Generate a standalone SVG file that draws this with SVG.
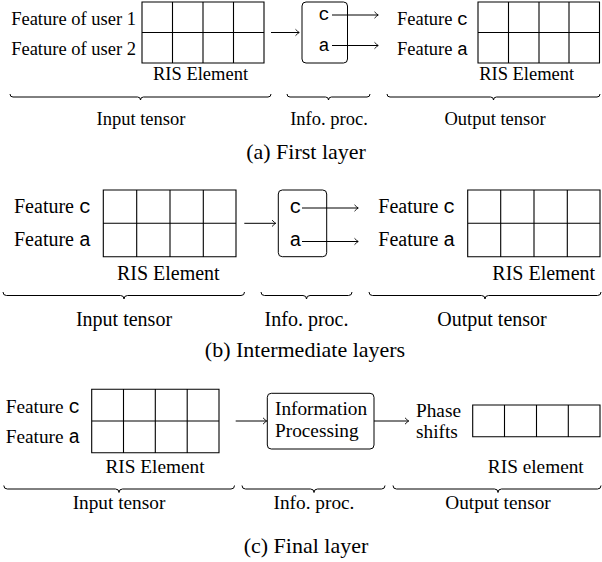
<svg xmlns="http://www.w3.org/2000/svg" width="602" height="562" viewBox="0 0 602 562">
<style>
text{font-family:"Liberation Serif","Times New Roman",serif;fill:#000}
.m{font-family:"Liberation Mono","Courier New",monospace}
.g{fill:none;stroke:#000;stroke-width:1.1}
.b{fill:#fff;stroke:#000;stroke-width:1}
.br{fill:none;stroke:#000;stroke-width:1}
.c{stroke:#000;stroke-width:1;fill:none;marker-end:url(#to)}
.fa{font-size:18.5px}.fb{font-size:20px}.fc{font-size:19.3px}.cap{font-size:22px}
</style>
<defs>
<marker id="to" markerUnits="userSpaceOnUse" markerWidth="10" markerHeight="10" refX="0" refY="0" viewBox="-6 -5 8 10" orient="auto" overflow="visible">
<path d="M-3.5,-3.2 Q-1,-0.6 0.3,0 Q-1,0.6 -3.5,3.2" fill="none" stroke="#000" stroke-width="0.9"/>
</marker>
</defs>
<rect width="602" height="562" fill="#fff"/>

<!-- (a) First layer -->
<g id="a-input" class="fa">
<text x="136" y="25" text-anchor="end">Feature of user 1</text>
<text x="136" y="55" text-anchor="end">Feature of user 2</text>
<path class="g" d="M142,2H264V63H142Z M142,32.5H264 M172.5,2V63 M203,2V63 M233.5,2V63"/>
<text x="200.5" y="80" text-anchor="middle">RIS Element</text>
</g>
<g id="a-proc" class="fa">
<rect class="b" x="302" y="2" width="45.5" height="61" rx="4"/>
<text class="m" x="324" y="20" text-anchor="middle">c</text>
<text class="m" x="324" y="50.5" text-anchor="middle">a</text>
</g>
<g id="a-output" class="fa">
<text x="397" y="25">Feature <tspan class="m">c</tspan></text>
<text x="397" y="55">Feature <tspan class="m">a</tspan></text>
<path class="g" d="M478,2H599.5V63H478Z M478,32.5H599.5 M508.5,2V63 M539,2V63 M569,2V63"/>
<text x="526.7" y="80" text-anchor="middle">RIS Element</text>
</g>
<g id="a-braces" class="fa">
<path class="br" d="M10,94Q10,97 13,97H137.5Q140.5,97 140.5,100Q140.5,97 143.5,97H268Q271,97 271,94"/>
<path class="br" d="M287,94Q287,97 290,97H325.5Q328.5,97 328.5,100Q328.5,97 331.5,97H367Q370,97 370,94"/>
<path class="br" d="M387,94Q387,97 390,97H490.5Q493.5,97 493.5,100Q493.5,97 496.5,97H597Q600,97 600,94"/>
<text x="141" y="125" text-anchor="middle">Input tensor</text>
<text x="329" y="125" text-anchor="middle">Info. proc.</text>
<text x="495" y="125" text-anchor="middle">Output tensor</text>
</g>
<text class="cap" x="306" y="158.7" text-anchor="middle">(a) First layer</text>

<!-- (b) Intermediate layers -->
<g id="b-input" class="fb">
<text x="91" y="213" text-anchor="end">Feature <tspan class="m">c</tspan></text>
<text x="91" y="246" text-anchor="end">Feature <tspan class="m">a</tspan></text>
<path class="g" d="M103.3,190H236V256.7H103.3Z M103.3,223.3H236 M136.7,190V256.7 M170,190V256.7 M203.3,190V256.7"/>
<text x="168.3" y="280" text-anchor="middle">RIS Element</text>
</g>
<g id="b-proc" class="fb">
<rect class="b" x="278.3" y="190" width="48.4" height="66.7" rx="4"/>
<text class="m" x="295.5" y="213" text-anchor="middle">c</text>
<text class="m" x="295.5" y="246" text-anchor="middle">a</text>
</g>
<g id="b-output" class="fb">
<text x="378.3" y="213">Feature <tspan class="m">c</tspan></text>
<text x="378.3" y="246">Feature <tspan class="m">a</tspan></text>
<path class="g" d="M467.7,190H600V256.7H467.7Z M467.7,223.3H600 M500.7,190V256.7 M534,190V256.7 M567.3,190V256.7"/>
<text x="543.7" y="280" text-anchor="middle">RIS Element</text>
</g>
<g id="b-braces" class="fb">
<path class="br" d="M3,292Q3,295.5 6.5,295.5H120.5Q124,295.5 124,299Q124,295.5 127.5,295.5H241Q244.5,295.5 244.5,292"/>
<path class="br" d="M261,292Q261,295.5 264.5,295.5H303Q306.5,295.5 306.5,299Q306.5,295.5 310,295.5H348.5Q352,295.5 352,292"/>
<path class="br" d="M369,292Q369,295.5 372.5,295.5H481.5Q485,295.5 485,299Q485,295.5 488.5,295.5H597.5Q601,295.5 601,292"/>
<text x="124" y="326" text-anchor="middle">Input tensor</text>
<text x="306.5" y="326" text-anchor="middle">Info. proc.</text>
<text x="492" y="326" text-anchor="middle">Output tensor</text>
</g>
<text class="cap" x="305" y="356.7" text-anchor="middle">(b) Intermediate layers</text>

<!-- (c) Final layer -->
<g id="c-input" class="fc">
<text x="80" y="412.7" text-anchor="end">Feature <tspan class="m">c</tspan></text>
<text x="80" y="443.3" text-anchor="end">Feature <tspan class="m">a</tspan></text>
<path class="g" d="M91.7,389.3H219V452.7H91.7Z M91.7,421H219 M123.5,389.3V452.7 M155.3,389.3V452.7 M187.2,389.3V452.7"/>
<text x="155" y="473" text-anchor="middle">RIS Element</text>
</g>
<g id="c-proc" class="fc">
<rect class="b" x="267.3" y="393.3" width="106.7" height="55.7" rx="4"/>
<text x="275" y="415">Information</text>
<text x="275" y="437">Processing</text>
</g>
<g id="c-output" class="fc">
<text x="416" y="416.7">Phase</text>
<text x="416" y="438.3">shifts</text>
<path class="g" d="M472.7,405H600V436.7H472.7Z M504.5,405V436.7 M536.5,405V436.7 M568.3,405V436.7"/>
<text x="535.8" y="473" text-anchor="middle">RIS element</text>
</g>
<g id="c-braces" class="fc">
<path class="br" d="M3.8,485.5Q3.8,489 7.3,489H115.5Q119,489 119,492.5Q119,489 122.5,489H231Q234.5,489 234.5,485.5"/>
<path class="br" d="M242,485.5Q242,489 245.5,489H310.5Q314,489 314,492.5Q314,489 317.5,489H381.5Q385,489 385,485.5"/>
<path class="br" d="M393,485.5Q393,489 396.5,489H494.5Q498,489 498,492.5Q498,489 501.5,489H597.5Q601,489 601,485.5"/>
<text x="119" y="509" text-anchor="middle">Input tensor</text>
<text x="314" y="509" text-anchor="middle">Info. proc.</text>
<text x="498" y="509" text-anchor="middle">Output tensor</text>
</g>
<text class="cap" x="306" y="553" text-anchor="middle">(c) Final layer</text>

<g id="connectors">
<path class="c" d="M271,32.5H299"/>
<path class="c" d="M332,15H378"/>
<path class="c" d="M332,45.5H378"/>
<path class="c" d="M244.3,223.3H275.5"/>
<path class="c" d="M302,208H358"/>
<path class="c" d="M302,241.5H358"/>
<path class="c" d="M235.7,421H266.5"/>
<path class="c" d="M374,421H408.5"/>
</g>
</svg>
